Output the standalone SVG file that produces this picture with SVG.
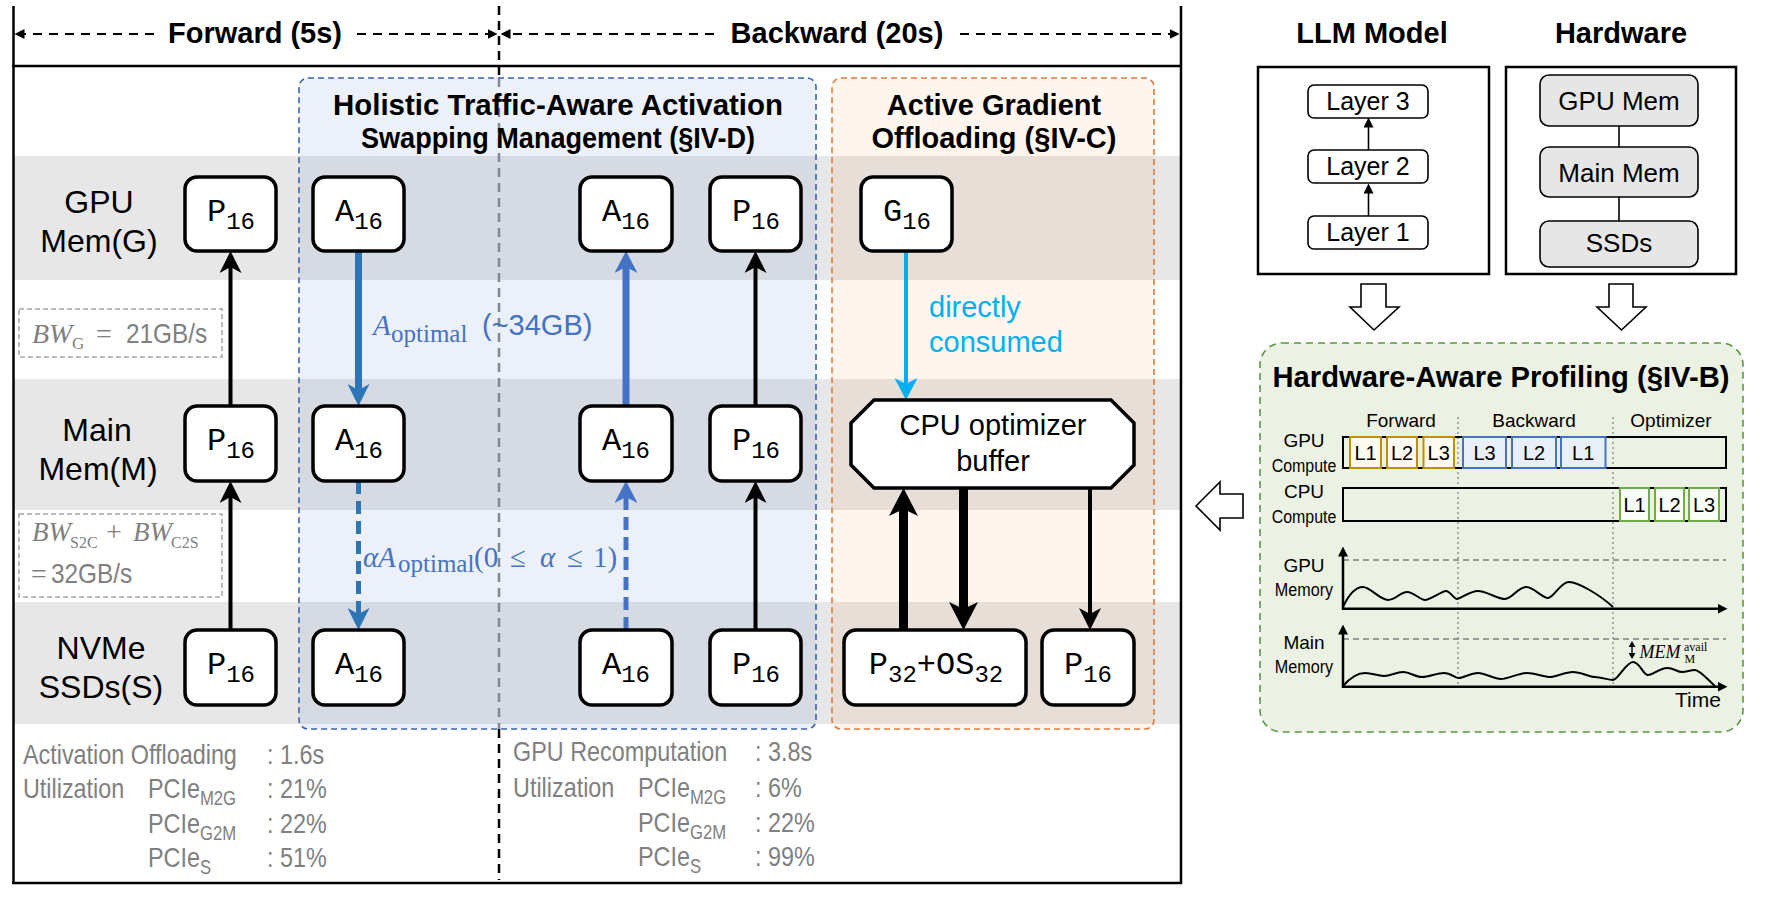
<svg xmlns="http://www.w3.org/2000/svg" width="1772" height="908" viewBox="0 0 1772 908">
<style>
  text { font-family: "Liberation Sans", Arial, sans-serif; }
  .hdr { font-size: 29px; font-weight: bold; fill: #000; text-anchor: middle; }
  .rl { font-size: 32px; fill: #000; text-anchor: middle; }
  .node { fill: #fff; stroke: #000; stroke-width: 3.5; }
  .nt { font-family: "Liberation Mono", "DejaVu Sans Mono", monospace; font-size: 32px; fill: #000; text-anchor: middle; }
  .sub { font-size: 24px; }
  .band { fill: #e7e7e7; }
  .gt { font-size: 28px; fill: #808080; }
  .gts { font-size: 20px; }
  .math { font-family: "Liberation Serif", "Times New Roman", serif; }
  .blk { stroke: #000; stroke-width: 4; fill: none; }
  .thick { stroke: #000; stroke-width: 9; fill: none; }
  .hw { fill: #e6e6e6; stroke: #000; stroke-width: 1.6; }
  .lay { fill: #fff; stroke: #000; stroke-width: 1.6; }
  .ct { font-size: 19px; fill: #000; }
  .ctn { font-size: 19px; fill: #000; text-anchor: middle; }
  .lt { font-size: 20px; fill: #000; text-anchor: middle; }
</style>
<defs>
  <marker id="mBlk" markerUnits="userSpaceOnUse" viewBox="0 0 22 22" markerWidth="22" markerHeight="22" refX="6" refY="11" orient="auto">
    <path d="M0,0 L22,11 L0,22 L6,11 Z" fill="#000"/>
  </marker>
  <marker id="mBlue1" markerUnits="userSpaceOnUse" viewBox="0 0 22 22" markerWidth="22" markerHeight="22" refX="6" refY="11" orient="auto">
    <path d="M0,0 L22,11 L0,22 L6,11 Z" fill="#2e75b6"/>
  </marker>
  <marker id="mBlue2" markerUnits="userSpaceOnUse" viewBox="0 0 22 23" markerWidth="22" markerHeight="23" refX="6" refY="11.5" orient="auto">
    <path d="M0,0 L22,11.5 L0,23 L6,11.5 Z" fill="#4472c4"/>
  </marker>
  <marker id="mCyan" markerUnits="userSpaceOnUse" viewBox="0 0 22 23" markerWidth="22" markerHeight="23" refX="6" refY="11.5" orient="auto">
    <path d="M0,0 L22,11.5 L0,23 L6,11.5 Z" fill="#00b0f0"/>
  </marker>
  <marker id="mThick" markerUnits="userSpaceOnUse" viewBox="0 0 28 29" markerWidth="28" markerHeight="29" refX="7" refY="14.5" orient="auto">
    <path d="M0,0 L28,14.5 L0,29 L7,14.5 Z" fill="#000"/>
  </marker>
  <marker id="mTri" markerUnits="userSpaceOnUse" viewBox="0 0 10 10" markerWidth="10" markerHeight="10" refX="0.5" refY="5" orient="auto-start-reverse">
    <path d="M0,0 L10,5 L0,10 Z" fill="#000"/>
  </marker>
  <marker id="mTiny" markerUnits="userSpaceOnUse" viewBox="0 0 6 7" markerWidth="6" markerHeight="7" refX="0.5" refY="3.5" orient="auto-start-reverse">
    <path d="M0,0 L6,3.5 L0,7 Z" fill="#000"/>
  </marker>
</defs>

<rect x="0" y="0" width="1772" height="908" fill="#fff"/>

<!-- left panel background bands -->
<g id="bands">
  <rect class="band" x="14" y="156" width="1167" height="124"/>
  <rect class="band" x="14" y="379" width="1167" height="131"/>
  <rect class="band" x="14" y="602" width="1167" height="122"/>
</g>

<!-- phase divider -->
<g id="divider" fill="none" stroke-width="2.5" stroke-dasharray="9,6">
  <line x1="499" y1="6" x2="499" y2="78" stroke="#000"/>
  <line x1="499" y1="78" x2="499" y2="729" stroke="#8c8c8c"/>
  <line x1="499" y1="729" x2="499" y2="880" stroke="#000"/>
</g>

<!-- group boxes -->
<g id="group-swap">
  <rect x="299" y="78" width="517" height="651" rx="9" fill="#4472c4" fill-opacity="0.1" stroke="#3a64ad" stroke-width="1.6" stroke-dasharray="6,4"/>
  <text class="hdr" x="558" y="115" textLength="450" lengthAdjust="spacingAndGlyphs">Holistic Traffic-Aware Activation</text>
  <text class="hdr" x="558" y="148" textLength="394" lengthAdjust="spacingAndGlyphs">Swapping Management (§IV-D)</text>
</g>
<g id="group-grad">
  <rect x="832" y="78" width="322" height="651" rx="9" fill="#ed7d31" fill-opacity="0.08" stroke="#e07b39" stroke-width="1.6" stroke-dasharray="6,4"/>
  <text class="hdr" x="994" y="115">Active Gradient</text>
  <text class="hdr" x="994" y="148">Offloading (§IV-C)</text>
</g>

<!-- frame -->
<g id="frame" stroke="#000" stroke-width="2.5" fill="none">
  <line x1="13.5" y1="6" x2="13.5" y2="884"/>
  <line x1="1181" y1="6" x2="1181" y2="884"/>
  <line x1="12" y1="66" x2="1182" y2="66"/>
  <line x1="12" y1="883" x2="1182" y2="883"/>
</g>

<!-- phase header -->
<g id="phase-header">
  <g stroke="#000" stroke-width="2" stroke-dasharray="9,7" fill="none">
    <line x1="154" y1="34" x2="24" y2="34" marker-end="url(#mTri)"/>
    <line x1="357" y1="34" x2="488" y2="34" marker-end="url(#mTri)"/>
    <line x1="714" y1="34" x2="510" y2="34" marker-end="url(#mTri)"/>
    <line x1="960" y1="34" x2="1170" y2="34" marker-end="url(#mTri)"/>
  </g>
  <text class="hdr" x="255" y="43">Forward (5s)</text>
  <text class="hdr" x="837" y="43">Backward (20s)</text>
</g>

<!-- row labels -->
<g id="row-labels">
  <text class="rl" x="99" y="213">GPU</text>
  <text class="rl" x="99" y="252">Mem(G)</text>
  <text class="rl" x="97" y="441">Main</text>
  <text class="rl" x="98" y="480">Mem(M)</text>
  <text class="rl" x="101" y="659">NVMe</text>
  <text class="rl" x="101" y="698">SSDs(S)</text>
</g>

<!-- bandwidth notes -->
<g id="bw-g" fill="#808080">
  <rect x="19" y="309" width="203" height="48" fill="#fff" stroke="#a6a6a6" stroke-width="1.5" stroke-dasharray="5,3"/>
  <text y="343"><tspan class="math" x="32" font-size="28" font-style="italic">BW</tspan><tspan class="math" x="72" y="349" font-size="17">G</tspan><tspan class="math" x="96" y="343" font-size="28">=</tspan></text>
  <text transform="translate(126,343) scale(0.87,1)" font-size="28">21GB/s</text>
</g>
<g id="bw-s" fill="#808080">
  <rect x="19" y="514" width="203" height="83" fill="#fff" stroke="#a6a6a6" stroke-width="1.5" stroke-dasharray="5,3"/>
  <text y="541" class="math"><tspan x="32" font-size="27" font-style="italic">BW</tspan><tspan x="70" y="548" font-size="16">S2C</tspan><tspan x="106" y="541" font-size="28">+</tspan><tspan x="133" font-size="27" font-style="italic">BW</tspan><tspan x="171" y="548" font-size="16">C2S</tspan></text>
  <text class="math" x="31" y="583" font-size="28">=</text>
  <text transform="translate(51,583) scale(0.87,1)" font-size="28">32GB/s</text>
</g>

<!-- connectors -->
<g id="connectors" fill="none">
  <line class="blk" x1="230.5" y1="406" x2="230.5" y2="267" marker-end="url(#mBlk)"/>
  <line class="blk" x1="230.5" y1="630" x2="230.5" y2="497" marker-end="url(#mBlk)"/>
  <line x1="358.5" y1="251" x2="358.5" y2="390" stroke="#2e75b6" stroke-width="7" marker-end="url(#mBlue1)"/>
  <line x1="358.5" y1="481" x2="358.5" y2="614" stroke="#2e75b6" stroke-width="5" stroke-dasharray="13,7" marker-end="url(#mBlue1)"/>
  <line x1="626" y1="406" x2="626" y2="267" stroke="#4472c4" stroke-width="7" marker-end="url(#mBlue2)"/>
  <line x1="626" y1="630" x2="626" y2="497" stroke="#4472c4" stroke-width="5" stroke-dasharray="13,7" marker-end="url(#mBlue2)"/>
  <line class="blk" x1="755.5" y1="406" x2="755.5" y2="267" marker-end="url(#mBlk)"/>
  <line class="blk" x1="755.5" y1="630" x2="755.5" y2="497" marker-end="url(#mBlk)"/>
  <line x1="906" y1="251" x2="906" y2="384" stroke="#00b0f0" stroke-width="4" marker-end="url(#mCyan)"/>
  <line class="thick" x1="903.5" y1="630" x2="903.5" y2="509" marker-end="url(#mThick)"/>
  <line class="thick" x1="963.5" y1="488" x2="963.5" y2="609" marker-end="url(#mThick)"/>
  <line class="blk" x1="1090" y1="488" x2="1090" y2="614" marker-end="url(#mBlk)"/>
</g>

<!-- connector labels -->
<g id="connector-labels">
  <text y="335" fill="#4472c4"><tspan class="math" x="373" font-size="29" font-style="italic">A</tspan><tspan class="math" x="391" y="342" font-size="25">optimal</tspan><tspan x="482" y="335" font-size="29">(~34GB)</tspan></text>
  <text y="567" fill="#4472c4" class="math" font-size="29"><tspan x="363" font-style="italic">α</tspan><tspan x="378" font-style="italic">A</tspan><tspan x="398" y="572" font-size="25">optimal</tspan><tspan x="474" y="567">(0</tspan><tspan x="510">≤</tspan><tspan x="540" font-style="italic">α</tspan><tspan x="567">≤</tspan><tspan x="593">1)</tspan></text>
  <text x="929" y="317" font-size="29" fill="#00b0f0">directly</text>
  <text x="929" y="352" font-size="29" fill="#00b0f0">consumed</text>
</g>

<!-- nodes -->
<g id="fwd-p16-g"><rect class="node" x="185" y="177" width="91" height="74" rx="12"/><text class="nt" x="231" y="221">P<tspan class="sub" dy="8">16</tspan></text></g>
<g id="fwd-p16-m"><rect class="node" x="185" y="406" width="91" height="75" rx="12"/><text class="nt" x="231" y="450">P<tspan class="sub" dy="8">16</tspan></text></g>
<g id="fwd-p16-s"><rect class="node" x="185" y="630" width="91" height="75" rx="12"/><text class="nt" x="231" y="674">P<tspan class="sub" dy="8">16</tspan></text></g>

<g id="a16-g1"><rect class="node" x="313" y="177" width="91" height="74" rx="12"/><text class="nt" x="359" y="221">A<tspan class="sub" dy="8">16</tspan></text></g>
<g id="a16-m1"><rect class="node" x="313" y="406" width="91" height="75" rx="12"/><text class="nt" x="359" y="450">A<tspan class="sub" dy="8">16</tspan></text></g>
<g id="a16-s1"><rect class="node" x="313" y="630" width="91" height="75" rx="12"/><text class="nt" x="359" y="674">A<tspan class="sub" dy="8">16</tspan></text></g>

<g id="a16-g2"><rect class="node" x="580" y="177" width="92" height="74" rx="12"/><text class="nt" x="626" y="221">A<tspan class="sub" dy="8">16</tspan></text></g>
<g id="a16-m2"><rect class="node" x="580" y="406" width="92" height="75" rx="12"/><text class="nt" x="626" y="450">A<tspan class="sub" dy="8">16</tspan></text></g>
<g id="a16-s2"><rect class="node" x="580" y="630" width="92" height="75" rx="12"/><text class="nt" x="626" y="674">A<tspan class="sub" dy="8">16</tspan></text></g>

<g id="bwd-p16-g"><rect class="node" x="710" y="177" width="91" height="74" rx="12"/><text class="nt" x="756" y="221">P<tspan class="sub" dy="8">16</tspan></text></g>
<g id="bwd-p16-m"><rect class="node" x="710" y="406" width="91" height="75" rx="12"/><text class="nt" x="756" y="450">P<tspan class="sub" dy="8">16</tspan></text></g>
<g id="bwd-p16-s"><rect class="node" x="710" y="630" width="91" height="75" rx="12"/><text class="nt" x="756" y="674">P<tspan class="sub" dy="8">16</tspan></text></g>

<g id="g16"><rect class="node" x="861" y="177" width="91" height="74" rx="12"/><text class="nt" x="907" y="221">G<tspan class="sub" dy="8">16</tspan></text></g>

<g id="cpu-buffer">
  <polygon class="node" points="874,400 1111,400 1134,423 1134,465 1111,488 874,488 851,465 851,423"/>
  <text x="993" y="435" font-size="29" text-anchor="middle">CPU optimizer</text>
  <text x="993" y="471" font-size="29" text-anchor="middle">buffer</text>
</g>
<g id="p32-os32"><rect class="node" x="844" y="630" width="182" height="75" rx="12"/><text class="nt" x="936" y="674">P<tspan class="sub" dy="8">32</tspan><tspan dy="-8">+OS</tspan><tspan class="sub" dy="8">32</tspan></text></g>
<g id="opt-p16"><rect class="node" x="1042" y="630" width="92" height="75" rx="12"/><text class="nt" x="1088" y="674">P<tspan class="sub" dy="8">16</tspan></text></g>

<!-- statistics (condensed via horizontal scale 0.835) -->
<g id="fwd-stats" class="gt">
  <text transform="translate(0,764) scale(0.835,1)"><tspan x="27.5">Activation Offloading</tspan><tspan x="319.8">: 1.6s</tspan></text>
  <text transform="translate(0,798) scale(0.835,1)"><tspan x="27.5">Utilization</tspan><tspan x="177.2">PCIe</tspan><tspan class="gts" dy="7">M2G</tspan><tspan x="319.8" dy="-7">: 21%</tspan></text>
  <text transform="translate(0,833) scale(0.835,1)"><tspan x="177.2">PCIe</tspan><tspan class="gts" dy="7">G2M</tspan><tspan x="319.8" dy="-7">: 22%</tspan></text>
  <text transform="translate(0,867) scale(0.835,1)"><tspan x="177.2">PCIe</tspan><tspan class="gts" dy="7">S</tspan><tspan x="319.8" dy="-7">: 51%</tspan></text>
</g>
<g id="bwd-stats" class="gt">
  <text transform="translate(0,761) scale(0.835,1)"><tspan x="614.4">GPU Recomputation</tspan><tspan x="904.2">: 3.8s</tspan></text>
  <text transform="translate(0,797) scale(0.835,1)"><tspan x="614.4">Utilization</tspan><tspan x="764.1">PCIe</tspan><tspan class="gts" dy="7">M2G</tspan><tspan x="904.2" dy="-7">: 6%</tspan></text>
  <text transform="translate(0,832) scale(0.835,1)"><tspan x="764.1">PCIe</tspan><tspan class="gts" dy="7">G2M</tspan><tspan x="904.2" dy="-7">: 22%</tspan></text>
  <text transform="translate(0,866) scale(0.835,1)"><tspan x="764.1">PCIe</tspan><tspan class="gts" dy="7">S</tspan><tspan x="904.2" dy="-7">: 99%</tspan></text>
</g>

<!-- LLM model -->
<g id="llm-model">
  <text class="hdr" x="1372" y="43">LLM Model</text>
  <rect x="1258" y="67" width="231" height="207" fill="#fff" stroke="#000" stroke-width="2.5"/>
  <rect class="lay" x="1308" y="85" width="120" height="33" rx="6"/>
  <text x="1368" y="110" font-size="25" text-anchor="middle">Layer 3</text>
  <rect class="lay" x="1308" y="150" width="120" height="33" rx="6"/>
  <text x="1368" y="175" font-size="25" text-anchor="middle">Layer 2</text>
  <rect class="lay" x="1308" y="216" width="120" height="33" rx="6"/>
  <text x="1368" y="241" font-size="25" text-anchor="middle">Layer 1</text>
  <line x1="1368.5" y1="150" x2="1368.5" y2="127" stroke="#000" stroke-width="1.6" marker-end="url(#mTri)"/>
  <line x1="1368.5" y1="216" x2="1368.5" y2="193" stroke="#000" stroke-width="1.6" marker-end="url(#mTri)"/>
</g>

<!-- Hardware -->
<g id="hardware">
  <text class="hdr" x="1621" y="43">Hardware</text>
  <rect x="1506" y="67" width="230" height="207" fill="#fff" stroke="#000" stroke-width="2.5"/>
  <line x1="1619" y1="125" x2="1619" y2="147" stroke="#000" stroke-width="1.6"/>
  <line x1="1619" y1="197" x2="1619" y2="221" stroke="#000" stroke-width="1.6"/>
  <rect class="hw" x="1540" y="75" width="158" height="51" rx="9"/>
  <text x="1619" y="110" font-size="26" text-anchor="middle">GPU Mem</text>
  <rect class="hw" x="1540" y="147" width="158" height="50" rx="9"/>
  <text x="1619" y="182" font-size="26" text-anchor="middle">Main Mem</text>
  <rect class="hw" x="1540" y="221" width="158" height="46" rx="9"/>
  <text x="1619" y="252" font-size="26" text-anchor="middle">SSDs</text>
</g>

<!-- hollow arrows -->
<g id="flow-arrows" fill="#fff" stroke="#000" stroke-width="1.6">
  <polygon points="1361,284 1386,284 1386,307 1399,307 1374,330 1350,307 1361,307"/>
  <polygon points="1609,284 1633,284 1633,307 1646,307 1621.5,330 1597,307 1609,307"/>
  <polygon points="1196,506 1220,482 1220,494 1243,494 1243,518 1220,518 1220,530"/>
</g>

<!-- profiling -->
<g id="profiling">
  <rect x="1260" y="343" width="483" height="389" rx="22" fill="#ebf2e4" stroke="#5e9441" stroke-width="1.6" stroke-dasharray="7,5"/>
  <text class="hdr" x="1501" y="387" textLength="457" lengthAdjust="spacingAndGlyphs">Hardware-Aware Profiling (§IV-B)</text>
  <text class="ct" x="1401" y="427" text-anchor="middle">Forward</text>
  <text class="ct" x="1534" y="427" text-anchor="middle">Backward</text>
  <text class="ct" x="1671" y="427" text-anchor="middle">Optimizer</text>
  <g stroke="#9a9a9a" stroke-width="1.6" stroke-dasharray="2,3">
    <line x1="1458" y1="417" x2="1458" y2="686"/>
    <line x1="1613" y1="417" x2="1613" y2="686"/>
  </g>
  <text class="ctn" x="1304" y="447" font-size="20">GPU</text>
  <text class="ctn" transform="translate(1304,472) scale(0.84,1)">Compute</text>
  <text class="ctn" x="1304" y="498" font-size="20">CPU</text>
  <text class="ctn" transform="translate(1304,523) scale(0.84,1)">Compute</text>
  <text class="ctn" x="1304" y="572" font-size="20">GPU</text>
  <text class="ctn" transform="translate(1304,596) scale(0.85,1)">Memory</text>
  <text class="ctn" x="1304" y="649" font-size="20">Main</text>
  <text class="ctn" transform="translate(1304,673) scale(0.85,1)">Memory</text>

  <rect x="1343" y="437" width="383" height="31" fill="none" stroke="#000" stroke-width="2"/>
  <g stroke="#bf9000" stroke-width="2" fill="#fffaf0">
    <rect x="1350" y="437" width="31" height="31"/>
    <rect x="1387" y="437" width="30" height="31"/>
    <rect x="1423.5" y="437" width="30.5" height="31"/>
  </g>
  <g stroke="#4472c4" stroke-width="2" fill="#e9eff9">
    <rect x="1463" y="437" width="43" height="31"/>
    <rect x="1512" y="437" width="44" height="31"/>
    <rect x="1561" y="437" width="44.5" height="31"/>
  </g>
  <text class="lt" x="1365.5" y="460">L1</text>
  <text class="lt" x="1402" y="460">L2</text>
  <text class="lt" x="1438.7" y="460">L3</text>
  <text class="lt" x="1484.5" y="460">L3</text>
  <text class="lt" x="1534" y="460">L2</text>
  <text class="lt" x="1583.2" y="460">L1</text>

  <rect x="1343" y="488" width="383" height="33" fill="none" stroke="#000" stroke-width="2"/>
  <g stroke="#70ad47" stroke-width="2" fill="#fafdf7">
    <rect x="1620" y="488" width="29" height="33"/>
    <rect x="1655" y="488" width="29" height="33"/>
    <rect x="1689" y="488" width="30" height="33"/>
  </g>
  <text class="lt" x="1634.5" y="512">L1</text>
  <text class="lt" x="1669.5" y="512">L2</text>
  <text class="lt" x="1704" y="512">L3</text>

  <g stroke="#7f7f7f" stroke-width="1.6" stroke-dasharray="6,4">
    <line x1="1343" y1="560" x2="1726" y2="560"/>
    <line x1="1343" y1="639" x2="1726" y2="639"/>
  </g>
  <g stroke="#000" stroke-width="2.5" fill="none">
    <line x1="1343" y1="610" x2="1343" y2="556" marker-end="url(#mTri)"/>
    <line x1="1342" y1="608.7" x2="1718" y2="608.7" marker-end="url(#mTri)"/>
    <line x1="1343" y1="688" x2="1343" y2="634" marker-end="url(#mTri)"/>
    <line x1="1342" y1="686.7" x2="1718" y2="686.7" marker-end="url(#mTri)"/>
  </g>
  <g stroke="#000" stroke-width="2" fill="none">
    <path d="M1343,607 C1350,592 1356,587 1363,587 S1380,600 1388,600 S1400,592 1407,592 S1420,600 1425,600 S1442,591 1446,591 S1454,599 1457,599 S1470,591 1478,591 S1498,599 1505,599 S1518,587 1526,587 S1542,598 1548,598 S1560,582 1569,582 S1600,595 1613,607"/>
    <path d="M1343,686 C1350,678 1357,673 1365,673 S1377,676 1384,676 S1396,672 1403,672 S1415,677 1422,677 S1437,673 1444,673 S1455,678 1459,678 S1471,673 1478,673 S1494,679 1501,679 S1519,673 1527,673 S1544,677 1550,677 S1565,672 1573,672 S1589,677 1595,677 S1608,680 1613,680 S1626,662 1633,662 S1643,675 1648,675 S1660,668 1667,668 S1677,672 1682,672 S1690,670 1695,670 S1710,682 1716,687"/>
  </g>
  <line x1="1632" y1="646.5" x2="1632" y2="653.5" stroke="#000" stroke-width="1.4" marker-start="url(#mTiny)" marker-end="url(#mTiny)"/>
  <text class="math" y="658" fill="#000"><tspan x="1639.5" font-size="18" font-style="italic">MEM</tspan><tspan x="1684" y="651" font-size="12">avail</tspan><tspan x="1684.5" y="663" font-size="12">M</tspan></text>
  <text x="1698" y="707" font-size="21" text-anchor="middle">Time</text>
</g>
</svg>
